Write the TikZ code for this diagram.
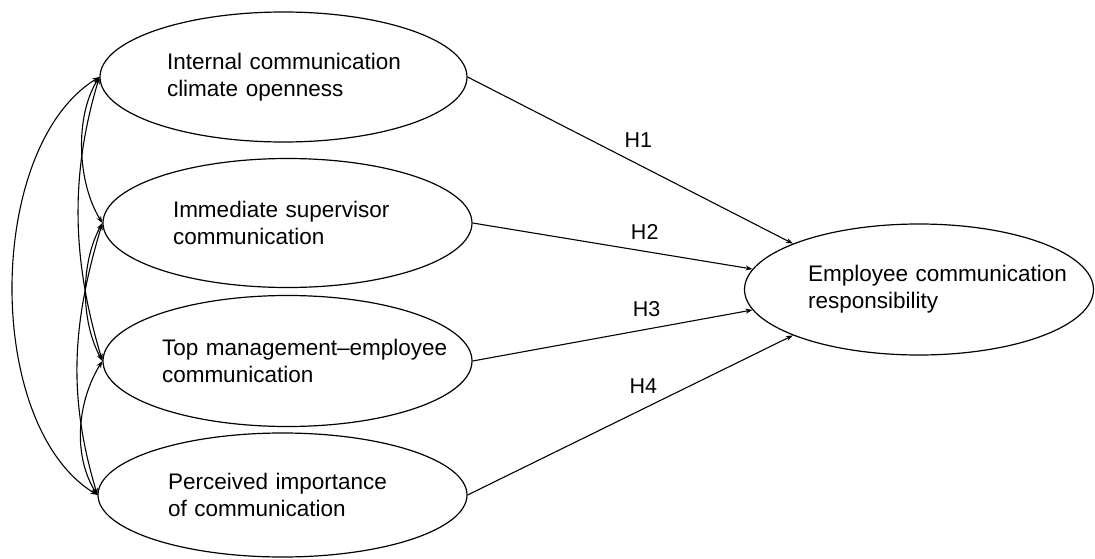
\documentclass[tikz,border=0pt]{standalone}
\usepackage{fontspec}
\setmainfont{Liberation Sans}
\usetikzlibrary{shapes.geometric,arrows.meta}
\hbadness=10000 \hfuzz=200pt
\begin{document}
\begin{tikzpicture}[x=1pt,y=-1pt,
  latent/.style={ellipse,draw,line width=1.2pt,inner xsep=-40pt,inner ysep=0pt,align=left,
    font=\fontsize{22.5}{27}\selectfont},
  hyp/.style={line width=1.1pt,-{Stealth[length=7pt,width=5pt]}},
  cov/.style={line width=1.1pt,{Stealth[length=7pt,width=5pt]}-{Stealth[length=7pt,width=5pt]}},
  lab/.style={font=\fontsize{21.5}{25}\selectfont,inner sep=0pt}]
\useasboundingbox (0,0) rectangle (1095,559);
\node[latent,text width=233pt,minimum width=367pt,minimum height=130pt] (e1) at (283.5,77) {\mbox{Internal communication}\\\mbox{climate openness}};
\node[latent,text width=229pt,minimum width=369pt,minimum height=129pt] (e2) at (287.5,223) {\mbox{Immediate supervisor}\\\mbox{communication}};
\node[latent,text width=251pt,minimum width=369pt,minimum height=131pt] (e3) at (287.5,361) {\mbox{Top management--employee}\\\mbox{communication}};
\node[latent,text width=229pt,minimum width=369pt,minimum height=124pt] (e4) at (282.5,495) {\mbox{Perceived importance}\\\mbox{of communication}};
\node[latent,text width=222pt,minimum width=349pt,minimum height=131pt] (r) at (919,289.5) {\mbox{Employee communication}\\\mbox{responsibility}};

\draw[hyp] (e1.east) -- node[lab,pos=0.525,yshift=24pt] (h1) {H1} (r.160);
\draw[hyp] (e2.east) -- node[lab,pos=0.615,yshift=19pt] (h2) {H2} (r.173);
\draw[hyp] (e3.east) -- node[lab,pos=0.622,yshift=20pt] (h3) {H3} (r.187);
\draw[hyp] (e4.east) -- node[lab,pos=0.54,yshift=23pt] (h4) {H4} (r.200);

\draw[cov] (e1.west) .. controls +(-25,40) and +(-25,-40) .. (e2.west);
\draw[cov] (e1.west) .. controls +(-30,100) and +(-30,-100) .. (e3.west);
\draw[cov] (e2.west) .. controls +(-22,40) and +(-22,-40) .. (e3.west);
\draw[cov] (e2.west) .. controls +(-30,100) and +(-30,-100) .. (e4.west);
\draw[cov] (e3.west) .. controls +(-25,40) and +(-25,-40) .. (e4.west);
\draw[cov] (e1.west) .. controls +(-114,70) and +(-114,-70) .. (e4.west);
\end{tikzpicture}
\end{document}
